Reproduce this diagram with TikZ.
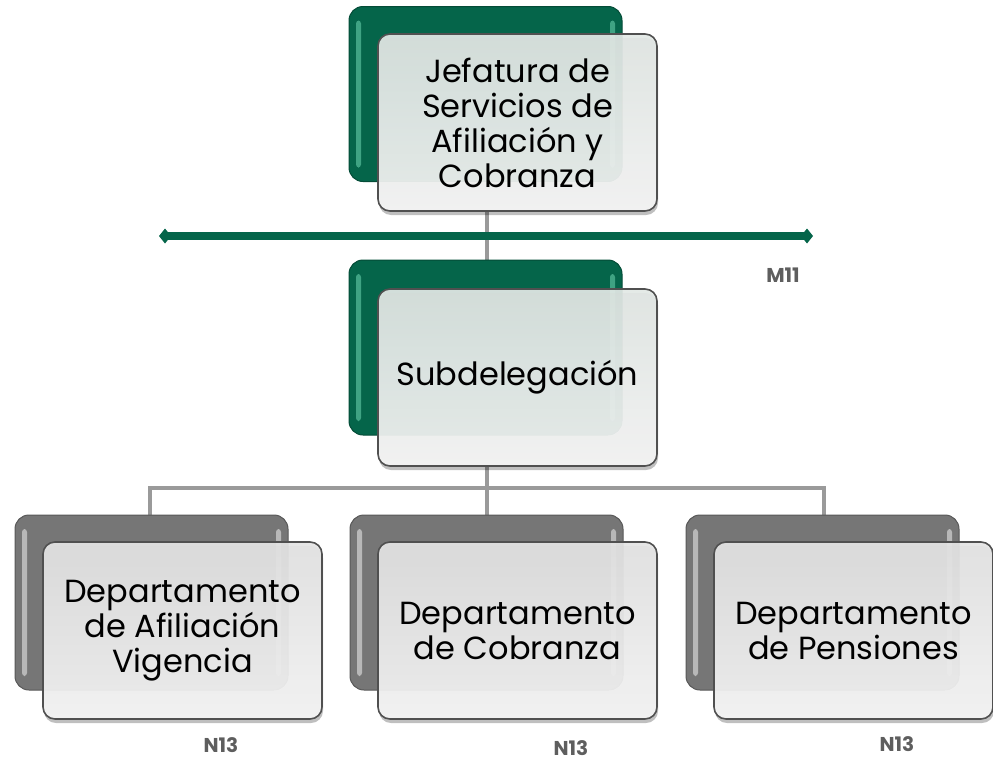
\documentclass[tikz,border=0pt]{standalone}
\usepackage{fontspec}
\setmainfont{Poppins}
\usetikzlibrary{arrows.meta,shadows}
\definecolor{dkgreen}{HTML}{05654A}
\definecolor{hlgreen}{HTML}{3FA383}
\definecolor{dkgray}{HTML}{767676}
\definecolor{hlgray}{HTML}{B8B8B8}
\definecolor{linegray}{HTML}{9A9A9A}
\definecolor{boxedge}{HTML}{505050}
\definecolor{lblgray}{HTML}{5E5E5E}
\definecolor{frontgreen}{HTML}{E2E8E5}
\definecolor{frontgray}{HTML}{E4E4E4}
\tikzset{
  backbox/.style 2 args={draw=#1!75!black, line width=1pt, rounded corners=14pt,
    fill=#1, minimum width=273pt, minimum height=175pt, inner sep=0pt,
    path picture={
      \fill[#2, rounded corners=3pt] ([xshift=7pt,yshift=-14pt]path picture bounding box.north west) rectangle ([xshift=12pt,yshift=14pt]path picture bounding box.south west);
      \fill[#2, rounded corners=3pt] ([xshift=-12pt,yshift=-14pt]path picture bounding box.north east) rectangle ([xshift=-7pt,yshift=14pt]path picture bounding box.south east);
    }},
  backgreen/.style={backbox={dkgreen}{hlgreen}},
  backgray/.style={backbox={dkgray}{hlgray}},
  frontbox/.style={draw=boxedge, line width=1.6pt, rounded corners=12pt,
    top color=#1, bottom color=white!93!gray, fill opacity=0.93, text opacity=1,
    minimum width=279pt, minimum height=177pt, inner sep=2pt, align=center,
    font=\fontsize{32}{35}\selectfont, text=black,
    drop shadow={shadow xshift=1pt, shadow yshift=-4pt, opacity=0.25, fill=black}},
  frontbox/.default={frontgray},
  conn/.style={draw=linegray, line width=4pt},
  lvl/.style={text=lblgray, font=\bfseries\fontsize{20}{22}\selectfont, inner sep=0pt},
}
\begin{document}
\begin{tikzpicture}[x=1pt,y=-1pt]
\useasboundingbox (0,0) rectangle (993,763);
% connector anchors
\coordinate (c0) at (487,212);
\coordinate (c1) at (487,262);
\coordinate (c2) at (487,465);
\coordinate (bl) at (150,488);
\coordinate (bm) at (487,488);
\coordinate (br) at (824,488);
\coordinate (dl) at (150,517);
\coordinate (dm) at (487,517);
\coordinate (dr) at (824,517);
\draw[conn] (c0) -- (c1);
\draw[conn] (c2) -- (bm);
\draw[conn, line cap=rect] (dl) -- (bl) -- (br) -- (dr);
\draw[conn] (bm) -- (dm);
% green line
\coordinate (gl) at (159,236);
\coordinate (gr) at (813,236);
\draw[dkgreen, line width=8pt, {Diamond[length=12pt,width=15pt]}-{Diamond[length=12pt,width=15pt]}] (gl) -- (gr);
% top
\node[backgreen] (jb) at (485.5,94) {};
\node[frontbox={frontgreen}] (jf) at (517.5,122.5) {Jefatura de\\Servicios de\\Afiliación y\\Cobranza};
% sub
\node[backgreen] (sb) at (485.5,347.5) {};
\node[frontbox={frontgreen}] (sf) at (517.5,377.5) {Subdelegación};
% bottom
\node[backgray] (lb) at (151.5,602.5) {};
\node[frontbox] (lf) at (182.5,630.5) {Departamento\\de Afiliación\\Vigencia};
\node[backgray] (mb) at (486.5,602.5) {};
\node[frontbox] (mf) at (517.5,630.5) {Departamento\\de Cobranza};
\node[backgray] (rb) at (822.5,602.5) {};
\node[frontbox] (rf) at (853.5,630.5) {Departamento\\de Pensiones};
% labels
\node[lvl] (m11) at (783,275) {M11};
\node[lvl] (n1) at (221,745) {N13};
\node[lvl] (n2) at (571,748) {N13};
\node[lvl] (n3) at (897,744) {N13};
\end{tikzpicture}
\end{document}
